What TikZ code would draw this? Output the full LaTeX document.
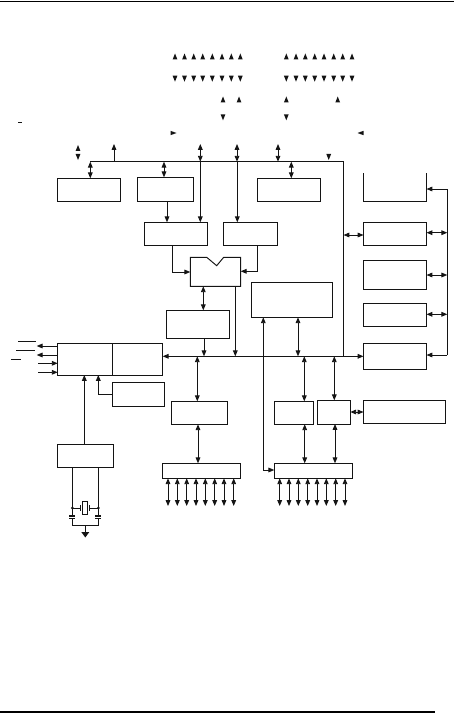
\documentclass[tikz,border=0pt]{standalone}
\usetikzlibrary{arrows.meta}
\definecolor{ink}{HTML}{141414}
\tikzset{
  >={Triangle[length=4.4pt,width=3.5pt]},
  blk/.style={draw=ink,line width=0.72pt,inner sep=0pt,outer sep=0pt},
  anch/.style={inner sep=0pt,outer sep=0pt},
  wire/.style={draw=ink,line width=0.68pt},
  oneway/.style={wire,->},
  twoway/.style={wire,<->},
  bar/.style={draw=ink,line width=0.68pt},
}
\newcommand\bx[6][blk]{\node[#1,minimum width={(#5-#3)*0.75pt},minimum height={(#6-#4)*0.75pt}] (#2) at ({(#3+#5)/2},{(#4+#6)/2}) {};}
\newcommand\up[2]{\fill[ink] (#1-2.4,#2+3) -- (#1+2.4,#2+3) -- (#1,#2-3) -- cycle;}
\newcommand\dn[2]{\fill[ink] (#1-2.4,#2-3) -- (#1+2.4,#2-3) -- (#1,#2+3) -- cycle;}
\newcommand\rt[2]{\fill[ink] (#1-3,#2-2.2) -- (#1-3,#2+2.2) -- (#1+3,#2) -- cycle;}
\newcommand\lt[2]{\fill[ink] (#1+3,#2-2.2) -- (#1+3,#2+2.2) -- (#1-3,#2) -- cycle;}
\begin{document}
\begin{tikzpicture}[x=0.75pt,y=-0.75pt]
\useasboundingbox (0,0) rectangle (454,713);
% page rules
\draw[draw=black,line width=0.9pt] (0,1.5) -- (454,1.5);
\draw[draw=black,line width=1.5pt] (0,711.5) -- (435,711.5);
% floating pin arrowheads
\foreach \x in {175,184.5,193.7,202.7,212.3,222,231.3,240.3,286.3,296,305.3,314.7,324,333.7,342.7,352} {\up{\x}{56.5}\dn{\x}{78.7}}
\foreach \x in {223,239,286.3,337.7} {\up{\x}{99.5}}
\foreach \x in {223,286.3} {\dn{\x}{117.3}}
\rt{173.5}{133}
\lt{360.5}{133}
\draw[bar] (18,122.3) -- (22,122.3);
\up{78}{148}\dn{78}{157}
\dn{328.7}{157}
% named junction levels
\coordinate (busA) at (0,161.7);
\coordinate (busB) at (0,356.3);
\coordinate (topA) at (0,144);
% blocks
\bx{b1}{57.7}{178.3}{120.3}{201.3}
\bx{b2}{137.3}{177.3}{193.3}{201.3}
\bx{b3}{257.7}{178.3}{320.7}{201.3}
\bx[anch]{rtop}{363.5}{173}{426.5}{201.3}
\draw[wire,line width=0.72pt] (rtop.north west) -- (rtop.south west) -- (rtop.south east) -- (rtop.north east);
\bx{b4}{144.3}{222.3}{207.7}{245.7}
\bx{b5}{223.7}{222.3}{277.3}{245.7}
\bx[anch]{alu}{190.3}{257.3}{240.7}{286.3}
\draw[wire,line width=0.72pt] (alu.north west) -- (206.7,257.3) -- (216.7,265.7) -- (223.7,257.3) -- (alu.north east) -- (alu.south east) -- (alu.south west) -- cycle;
\bx{b6}{166.3}{310.3}{229.3}{338.7}
\bx{b7}{251}{282.3}{332}{317.3}
\bx{r1}{363.5}{222.3}{426.5}{245.7}
\bx{r2}{363.5}{260.3}{426.5}{289.3}
\bx{r3}{363.5}{303.3}{426.5}{326.7}
\bx{r4}{363.5}{343}{426.5}{369.3}
\bx{r5}{363.5}{400.3}{445}{423.7}
\bx{l1}{57.7}{343.3}{112.7}{375}
\bx{l2}{112.7}{343.3}{162.7}{375}
\bx{l3}{112}{382.7}{164.3}{406.3}
\bx{osc}{57.3}{444.3}{113.3}{467.3}
\bx{b11}{171.3}{401.3}{227}{424.3}
\bx{b12}{274.3}{401.3}{313}{424.3}
\bx{b13}{317.3}{400.3}{350.3}{424}
\bx{p1}{162.3}{463.3}{240.3}{478.3}
\bx{p2}{274.3}{463.3}{352.3}{478.3}
% upper bus
\draw[wire] (90.3,0 |- busA) -- (343.5,0 |- busA) -- (343.5,0 |- busB);
\draw[twoway] (90.3,0 |- busA) -- (90.3,0 |- b1.north);
\draw[oneway] (114,0 |- busA) -- (114,0 |- topA);
\draw[twoway] (164,0 |- busA) -- (164,0 |- b2.north);
\draw[twoway] (291.3,0 |- busA) -- (291.3,0 |- b3.north);
\draw[twoway] (278,144) -- (278,0 |- busA);
\draw[twoway] (200.3,144) -- (200.3,161.7);
\draw[twoway] (237,144) -- (237,161.7);
\draw[oneway] (200.3,0 |- busA) -- (200.3,0 |- b4.north);
\draw[oneway] (237.3,0 |- busA) -- (237.3,0 |- b5.north);
\draw[oneway] (167,0 |- b2.south) -- (167,0 |- b4.north);
% to ALU
\draw[oneway] (172.3,0 |- b4.south) -- (172.3,272) -- (alu.west |- 0,272);
\draw[oneway] (257.3,0 |- b5.south) -- (257.3,271.3) -- (alu.east |- 0,271.3);
\draw[twoway] (203.3,0 |- alu.south) -- (203.3,0 |- b6.north);
\draw[oneway] (204,0 |- b6.south) -- (204,0 |- busB);
\draw[oneway] (235.3,0 |- alu.south) -- (235.3,0 |- busB);
% lower bus
\draw[twoway] (l2.east |- busB) -- (r4.west |- busB);
\draw[twoway] (298,0 |- b7.south) -- (298,0 |- busB);
\draw[twoway] (343.5,235) -- (r1.west |- 0,235);
% right rail
\draw[wire] (447.3,189) -- (447.3,355);
\draw[oneway] (447.3,189) -- (rtop.east |- 0,189);
\draw[oneway] (447.3,355) -- (r4.east |- 0,355);
\draw[twoway] (r1.east |- 0,232.7) -- (447.3,232.7);
\draw[twoway] (r2.east |- 0,275) -- (447.3,275);
\draw[twoway] (r3.east |- 0,314.3) -- (447.3,314.3);
\draw[twoway] (b13.east |- 0,412) -- (r5.west |- 0,412);
% bus to lower blocks
\draw[twoway] (197.3,0 |- busB) -- (197.3,0 |- b11.north);
\draw[twoway] (304.3,0 |- busB) -- (304.3,0 |- b12.north);
\draw[twoway] (334.3,0 |- busB) -- (334.3,0 |- b13.north);
\draw[twoway] (198,0 |- b11.south) -- (198,0 |- p1.north);
\draw[twoway] (304.7,0 |- b12.south) -- (304.7,0 |- p2.north);
\draw[twoway] (335,0 |- b13.south) -- (335,0 |- p2.north);
\draw[twoway] (263.3,0 |- b7.south) -- (263.3,470) -- (p2.west |- 0,470);
% port pins
\coordinate (pinend) at (0,506);
\foreach \x in {168,177.3,186.7,196,205.3,214.7,224,233.7} {\draw[twoway] (\x,0 |- p1.south) -- (\x,0 |- pinend);}
\foreach \x in {279.7,289,298.3,307.7,317,326.3,335.7,345} {\draw[twoway] (\x,0 |- p2.south) -- (\x,0 |- pinend);}
% left signals
\draw[oneway] (l1.west |- 0,346) -- (36.7,346);
\draw[oneway] (l1.west |- 0,355) -- (36.7,355);
\draw[oneway] (38,363.3) -- (l1.west |- 0,363.3);
\draw[oneway] (38,372.3) -- (l1.west |- 0,372.3);
\draw[bar] (18,341.3) -- (35.7,341.3);
\draw[bar] (16,350.3) -- (34.7,350.3);
\draw[bar] (11,359.3) -- (20.7,359.3);
\draw[oneway] (84.3,0 |- osc.north) -- (84.3,0 |- l1.south);
\draw[oneway] (l3.west |- 0,394.3) -- (98.3,394.3) -- (98.3,0 |- l1.south);
% crystal
\draw[wire] (72.3,0 |- osc.south) -- (72.3,516);
\draw[wire] (98.3,0 |- osc.south) -- (98.3,516);
\draw[wire] (72.3,518.5) -- (72.3,525.3) -- (98.3,525.3) -- (98.3,518.5);
\draw[wire] (72.3,508) -- (80.7,508);
\draw[wire] (89.3,508) -- (98.3,508);
\draw[wire] (80.7,505) -- (80.7,511);
\draw[wire] (89.3,505) -- (89.3,511);
\node[blk,minimum width=4pt,minimum height=9.75pt] (xtal) at (85,507.8) {};
\fill[ink] (72.3,508) circle (1.5);
\fill[ink] (98.3,508) circle (1.5);
\draw[wire,line width=0.9pt] (69.3,516) -- (75.3,516);
\draw[wire,line width=0.9pt] (69.3,518.5) -- (75.3,518.5);
\draw[wire,line width=0.9pt] (95.3,516) -- (101.3,516);
\draw[wire,line width=0.9pt] (95.3,518.5) -- (101.3,518.5);
\draw[wire] (85.3,525.3) -- (85.3,532);
\fill[ink] (81.3,532) -- (89.3,532) -- (85.3,537.5) -- cycle;
\end{tikzpicture}
\end{document}
